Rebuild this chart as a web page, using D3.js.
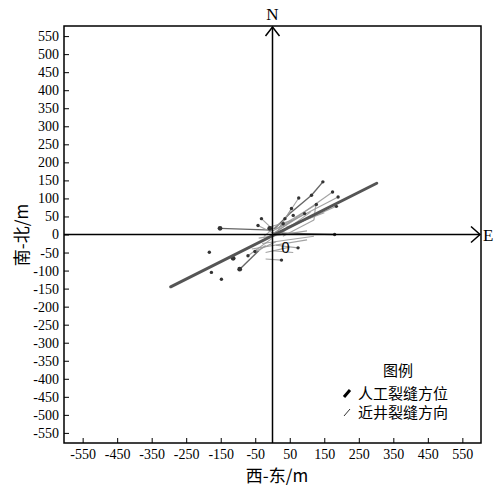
<!DOCTYPE html>
<html>
<head>
<meta charset="utf-8">
<script src="https://cdn.jsdelivr.net/npm/d3@7"></script>
<style>
  body { margin: 0; background: #fff; }
  svg { display: block; }
</style>
</head>
<body>
<svg id="chart" width="502" height="487"></svg>
<script>
// tick values (m)
var xTicks = [-550, -450, -350, -250, -150, -50, 50, 150, 250, 350, 450, 550];
var yTicks = d3.range(-550, 551, 50);

// main hydraulic fracture azimuth (人工裂缝方位)
var mainFrac = [[-295, -145], [302, 142]];

// near-well fracture directions (近井裂缝方向): x1, y1, x2, y2
var nearSegs = [
  [-152, 17, 0, 12],
  [0, 4, 180, 0],
  [146, 146, 113, 109],
  [113, 109, 50, 58],
  [50, 58, 5, 15],
  [-95, -96, -40, -45],
  [0, 10, 190, 104],
  [0, 0, 174, 118],
  [10, 15, 127, 83],
  [20, 20, 76, 101],
  [15, 10, 55, 72],
  [5, 5, 93, 58],
  [0, 0, 185, 78],
  [20, 0, 110, 62],
  [30, -5, 120, 40],
  [120, 40, 125, 80],
  [-42, 25, 0, 5],
  [-32, 44, -5, 20],
  [-40, -45, -20, -30],
  [-71, -59, 0, -10],
  [-51, -47, 10, -20],
  [-20, -68, 26, -71],
  [74, -37, 10, -30],
  [-60, -40, 100, -15],
  [-40, -10, 100, 10],
  [-30, -25, 120, -5],
  [0, -45, 60, -50],
  [-20, -50, 50, -35],
  [-10, 20, 60, 40],
  [-25, -5, 20, 30],
  [40, 20, 150, 60]
];

// scattered fracture end points
var dotsX = [-152, 146, 180, -183, -177, -148, -114, -95, -71, -51, -32, -42, 26, 74, 76, 113, 127, 174, 190, 185, 93, 55, 60, 36, 31, -8];
var dotsY = [17, 146, 0, -49, -105, -124, -66, -96, -59, -47, 44, 25, -71, -37, 101, 109, 83, 118, 104, 78, 58, 72, 53, 44, 30, 17];

var svg = d3.select("#chart");
var pL = 64, pR = 481, pT = 26, pB = 443;

var x = d3.scaleLinear().domain([-604, 604]).range([pL, pR]);
var y = d3.scaleLinear().domain([-578, 578]).range([pB, pT]);

var serif = "'Liberation Serif', 'DejaVu Serif', serif";
var cjk = "'Noto Sans CJK SC', sans-serif";
var plain = function(d) { return String(d); };

// frame
svg.append("rect")
    .attr("x", pL).attr("y", pT)
    .attr("width", pR - pL).attr("height", pB - pT)
    .attr("fill", "none").attr("stroke", "#000").attr("stroke-width", 1.5);

// x axis ticks (inside, bottom)
var xAxis = d3.axisBottom(x).tickValues(xTicks).tickFormat(plain)
    .tickSizeInner(-5).tickSizeOuter(0).tickPadding(6);
var gx = svg.append("g").attr("transform", "translate(0," + pB + ")").call(xAxis);
gx.select(".domain").remove();
gx.selectAll("text").attr("font-family", serif).attr("font-size", 14).attr("fill", "#000");
gx.selectAll("line").attr("stroke", "#000");

// y axis ticks (inside, left)
var yAxis = d3.axisLeft(y).tickValues(yTicks).tickFormat(plain)
    .tickSizeInner(-5).tickSizeOuter(0).tickPadding(5);
var gy = svg.append("g").attr("transform", "translate(" + pL + ",0)").call(yAxis);
gy.select(".domain").remove();
gy.selectAll("text").attr("font-family", serif).attr("font-size", 14).attr("fill", "#000");
gy.selectAll("line").attr("stroke", "#000");

// near-well fractures
var gNear = svg.append("g");
gNear.selectAll("line").data(nearSegs).enter().append("line")
    .attr("x1", function(d) { return x(d[0]); })
    .attr("y1", function(d) { return y(d[1]); })
    .attr("x2", function(d) { return x(d[2]); })
    .attr("y2", function(d) { return y(d[3]); })
    .attr("stroke", function(d, i) { return i < 6 ? "#555" : "#999"; })
    .attr("stroke-width", function(d, i) { return i < 6 ? 1.4 : 1.1; })
    .attr("opacity", 0.9);

gNear.selectAll("circle").data(d3.range(dotsX.length)).enter().append("circle")
    .attr("cx", function(i) { return x(dotsX[i]); })
    .attr("cy", function(i) { return y(dotsY[i]); })
    .attr("r", function(i) { return (i === 0 || i === 6 || i === 7 || i === 25) ? 2.4 : 1.7; })
    .attr("fill", "#333");

// main fracture azimuth
svg.append("line")
    .attr("x1", x(mainFrac[0][0])).attr("y1", y(mainFrac[0][1]))
    .attr("x2", x(mainFrac[1][0])).attr("y2", y(mainFrac[1][1]))
    .attr("stroke", "#555").attr("stroke-width", 3).attr("stroke-linecap", "round");

// compass axes
svg.append("line")
    .attr("x1", pL).attr("y1", y(0)).attr("x2", pR - 1).attr("y2", y(0))
    .attr("stroke", "#000").attr("stroke-width", 1.5);
svg.append("line")
    .attr("x1", x(0)).attr("y1", pB).attr("x2", x(0)).attr("y2", pT + 1)
    .attr("stroke", "#000").attr("stroke-width", 1.5);
// arrow heads
svg.append("path")
    .attr("d", "M" + (pR - 10) + "," + (y(0) - 8) + "L" + (pR - 1) + "," + y(0) + "L" + (pR - 10) + "," + (y(0) + 8))
    .attr("fill", "none").attr("stroke", "#000").attr("stroke-width", 1.5);
svg.append("path")
    .attr("d", "M" + (x(0) - 7) + "," + (pT + 10) + "L" + x(0) + "," + (pT + 1) + "L" + (x(0) + 7) + "," + (pT + 10))
    .attr("fill", "none").attr("stroke", "#000").attr("stroke-width", 1.5);

svg.append("text").attr("x", x(0)).attr("y", 20).attr("text-anchor", "middle")
    .attr("font-family", serif).attr("font-size", 17).text("N");
svg.append("text").attr("x", 483).attr("y", y(0) + 6).attr("text-anchor", "start")
    .attr("font-family", serif).attr("font-size", 17).text("E");
svg.append("text").attr("x", x(0) + 13).attr("y", y(0) + 18).attr("text-anchor", "middle")
    .attr("font-family", serif).attr("font-size", 17).text("0");

// axis titles
svg.append("text").attr("x", 277).attr("y", 482).attr("text-anchor", "middle")
    .attr("font-family", cjk).attr("font-size", 17).text("西-东/m");
svg.append("text").attr("transform", "translate(28,235) rotate(-90)").attr("text-anchor", "middle")
    .attr("font-family", cjk).attr("font-size", 17).text("南-北/m");

// legend
var lg = svg.append("g");
lg.append("text").attr("x", 398).attr("y", 376).attr("text-anchor", "middle")
    .attr("font-family", cjk).attr("font-size", 15).text("图例");
lg.append("line").attr("x1", 344).attr("y1", 397).attr("x2", 350).attr("y2", 390)
    .attr("stroke", "#000").attr("stroke-width", 3);
lg.append("line").attr("x1", 344).attr("y1", 416).attr("x2", 350).attr("y2", 409)
    .attr("stroke", "#333").attr("stroke-width", 1);
lg.append("text").attr("x", 358).attr("y", 399)
    .attr("font-family", cjk).attr("font-size", 15).text("人工裂缝方位");
lg.append("text").attr("x", 358).attr("y", 418)
    .attr("font-family", cjk).attr("font-size", 15).text("近井裂缝方向");
</script>
</body>
</html>
